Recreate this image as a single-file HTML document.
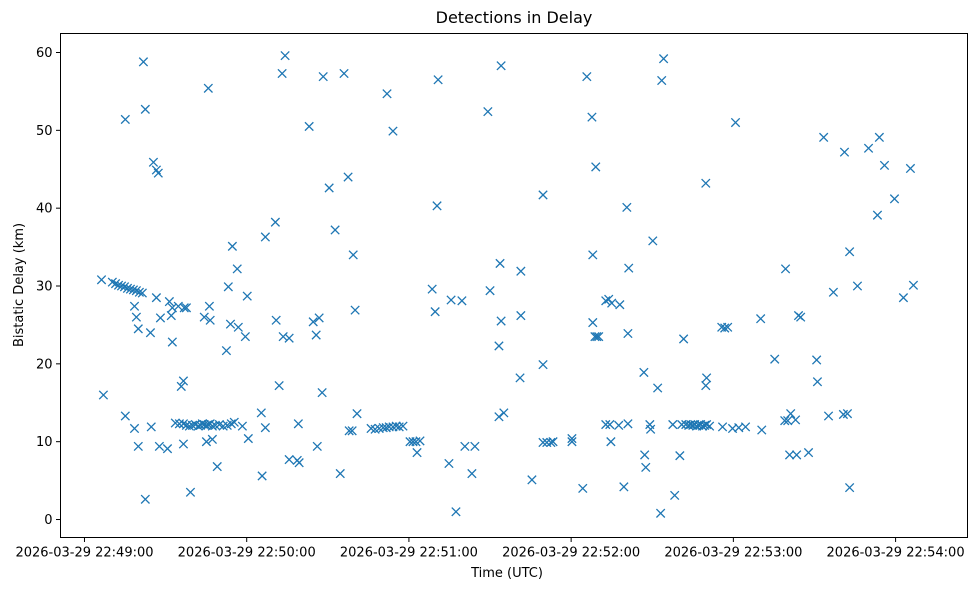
<!DOCTYPE html>
<html><head><meta charset="utf-8"><style>
body{margin:0;background:#fff;}
svg text{font-family:"DejaVu Sans","Liberation Sans",sans-serif;fill:#000;}
</style></head><body>
<svg id="chart" width="978" height="590" xmlns="http://www.w3.org/2000/svg">
<rect width="978" height="590" fill="#fff"/>
<text x="514" y="23" font-size="16" text-anchor="middle">Detections in Delay</text>
<g id="marks"></g>
<rect x="60.5" y="33.5" width="907" height="504" fill="none" stroke="#000" stroke-width="1"/>
<g id="xaxis"></g>
<g id="yaxis"></g>
<text x="507" y="577" font-size="13" text-anchor="middle">Time (UTC)</text>
<text transform="translate(23,285) rotate(-90)" font-size="13" text-anchor="middle">Bistatic Delay (km)</text>
</svg>
<script>
// seconds after 2026-03-29 22:49:00 UTC
const times = [6.3,7.0,10.3,11.5,12.6,13.7,14.8,15.9,17.0,18.1,19.2,20.3,21.4,15.1,15.1,18.5,19.2,19.9,18.5,19.9,21.8,22.5,22.5,24.4,24.7,25.5,26.6,27.3,26.6,27.7,28.1,30.7,31.4,32.5,32.5,32.1,33.6,34.7,35.8,36.6,36.6,36.9,37.7,35.1,
36.6,37.7,38.8,39.9,41.0,42.1,42.9,43.6,44.3,45.1,45.8,46.5,47.3,48.4,49.9,51.3,52.8,54.3,55.4,
39.2,44.3,45.8,46.2,46.5,45.1,47.3,49.1,52.5,53.2,54.0,54.7,56.5,56.9,59.5,60.2,60.6,58.4,65.4,65.7,66.9,66.9,70.6,70.9,72.0,73.1,74.2,73.5,75.7,75.7,78.7,79.4,79.1,83.1,84.6,85.7,86.1,86.8,87.9,88.3,90.5,92.7,94.6,96.0,97.5,97.9,99.0,99.4,100.1,100.8,
106.0,107.5,109.0,110.5,111.6,112.7,114.1,115.3,116.4,117.8,
111.9,114.1,120.4,121.5,122.6,123.0,124.1,128.6,129.7,130.4,130.8,134.8,135.6,137.4,139.6,140.7,144.4,143.3,149.2,150.0,153.3,153.7,154.1,153.3,155.1,154.1,161.1,161.4,161.4,165.5,169.6,169.6,169.6,171.0,172.5,173.3,180.3,180.3,184.3,185.8,187.7,188.0,188.0,188.8,189.5,190.2,189.1,192.8,193.9,195.0,192.8,194.3,194.7,198.0,197.6,199.5,200.6,201.0,201.3,201.0,206.9,207.2,207.6,209.1,209.4,210.2,212.0,213.1,213.5,214.2,217.6,218.3,220.2,221.6,220.9,
222.4,223.5,224.2,225.0,225.7,226.4,227.2,227.9,228.6,229.4,230.1,231.2,
229.8,230.1,229.8,235.7,236.8,237.9,236.0,239.7,242.0,244.5,240.8,250.5,250.1,255.3,259.3,259.0,260.1,261.2,260.8,263.4,263.0,264.1,264.9,267.8,270.8,271.1,273.4,275.2,277.0,281.1,280.7,282.2,283.0,283.0,285.9,290.0,293.3,294.0,295.9,299.6,302.9,305.5,306.6];
const delays = [30.8,16.0,30.5,30.3,30.1,30.0,29.9,29.7,29.6,29.5,29.4,29.2,29.1,51.4,13.3,27.4,26.0,24.5,11.7,9.4,58.8,52.7,2.6,24.0,11.9,45.9,44.9,44.5,28.5,9.4,25.9,9.1,28.0,27.2,22.8,26.2,12.4,27.4,17.1,17.8,9.7,27.2,27.2,12.3,
12.3,12.1,12.0,12.1,12.2,12.0,12.1,12.3,12.2,12.1,12.2,12.3,12.0,12.1,12.2,12.0,12.1,12.3,12.5,
3.5,26.0,55.4,27.4,25.6,10.0,10.3,6.8,21.7,29.9,25.1,35.1,32.2,24.7,23.5,28.7,10.4,12.0,13.7,5.6,11.8,36.3,38.2,25.6,17.2,57.3,59.6,23.5,23.3,7.7,7.6,7.3,12.3,50.5,25.4,23.7,9.4,25.9,16.3,56.9,42.6,37.2,5.9,57.3,44.0,11.4,11.4,34.0,26.9,13.6,
11.7,11.6,11.7,11.8,11.8,11.9,11.9,12.0,11.9,12.0,
54.7,49.9,10.0,10.0,10.0,8.6,10.1,29.6,26.7,40.3,56.5,7.2,28.2,1.0,28.1,9.4,9.4,5.9,52.4,29.4,22.3,32.9,25.5,13.2,13.7,58.3,18.2,26.2,31.9,5.1,19.9,41.7,9.9,9.9,9.9,10.0,10.4,10.0,4.0,56.9,51.7,34.0,25.3,23.5,23.5,23.5,45.3,28.1,28.3,27.8,12.2,12.2,10.0,27.6,12.1,4.2,40.1,23.9,32.3,12.3,18.9,8.3,6.7,12.2,11.6,35.8,16.9,0.8,56.4,59.2,12.2,3.1,8.2,23.2,12.2,
12.2,12.1,12.2,12.1,12.2,12.0,12.1,12.2,12.0,12.1,12.2,12.0,
17.2,18.2,43.2,24.7,24.6,24.7,11.9,11.7,11.8,11.9,51.0,11.5,25.8,20.6,32.2,12.7,12.7,13.6,8.3,8.3,12.8,26.2,26.0,8.6,20.5,17.7,49.1,13.3,29.2,47.2,13.5,13.6,34.4,4.1,30.0,47.7,39.1,49.1,45.5,41.2,28.5,45.1,30.1];
const xTickValues = [0,60,120,180,240,300];
const xTickLabels = ["2026-03-29 22:49:00","2026-03-29 22:50:00","2026-03-29 22:51:00","2026-03-29 22:52:00","2026-03-29 22:53:00","2026-03-29 22:54:00"];
const yTickValues = [0,10,20,30,40,50,60];

const NS="http://www.w3.org/2000/svg";
const xMin=-8.87, xMax=326.6, yMin=-2.31, yMax=62.44;
const L=60.5, R=967.5, T=33.5, B=537.5;
function xs(t){return L+(t-xMin)/(xMax-xMin)*(R-L);}
function ys(d){return B-(d-yMin)/(yMax-yMin)*(B-T);}
function mk(tag,attrs){const e=document.createElementNS(NS,tag);for(const k in attrs)e.setAttribute(k,attrs[k]);return e;}

const marks=document.getElementById('marks');
for(let i=0;i<times.length;i++){
  const cx=xs(times[i]), cy=ys(delays[i]), s=4.2;
  const p=mk('path',{d:`M${cx-s},${cy-s}L${cx+s},${cy+s}M${cx-s},${cy+s}L${cx+s},${cy-s}`,stroke:'#1f77b4','stroke-width':1.3,fill:'none'});
  
  
  marks.appendChild(p);
}
const xa=document.getElementById('xaxis');
xTickValues.forEach((v,i)=>{
  const x=xs(v);
  const l=mk('line',{x1:x,x2:x,y1:B,y2:B+4.5,stroke:'#000','stroke-width':1});
  
  
  xa.appendChild(l);
  const t=mk('text',{x:x,y:B+19,'font-size':13,'text-anchor':'middle'});
  t.textContent=xTickLabels[i];
  
  
  xa.appendChild(t);
});
const ya=document.getElementById('yaxis');
yTickValues.forEach(v=>{
  const y=ys(v);
  const l=mk('line',{x1:L-4.5,x2:L,y1:y,y2:y,stroke:'#000','stroke-width':1});
  
  
  ya.appendChild(l);
  const t=mk('text',{x:L-8,y:y+4.5,'font-size':13,'text-anchor':'end'});
  t.textContent=String(v);
  
  
  ya.appendChild(t);
});
</script>
</body></html>
